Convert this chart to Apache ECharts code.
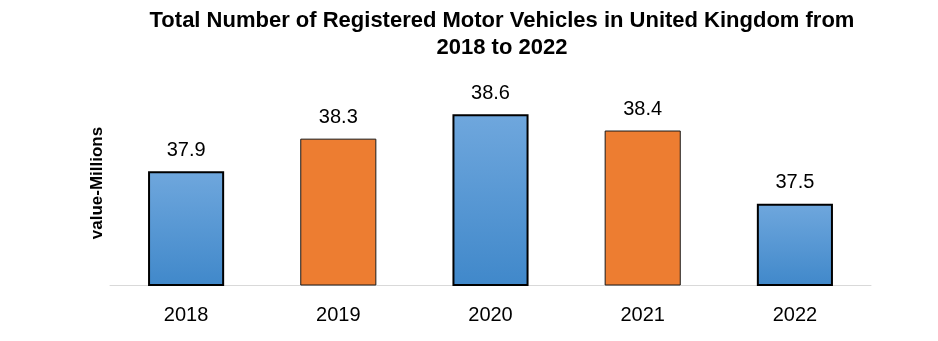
<!DOCTYPE html>
<html>
<head>
<meta charset="utf-8">
<script src="https://cdn.jsdelivr.net/npm/echarts@6/dist/echarts.min.js"></script>
<style>
  html, body { margin: 0; padding: 0; background: #fff; }
  #chart { width: 938px; height: 341px; }
</style>
</head>
<body>
<div id="chart"></div>
<script>
// Registered motor vehicles in the UK, millions
const years = ['2018', '2019', '2020', '2021', '2022'];
const vehicles = [37.9, 38.3, 38.6, 38.4, 37.5];
const barKinds = ['blue', 'orange', 'blue', 'orange', 'blue'];

const blueFill = new echarts.graphic.LinearGradient(0, 0, 0, 1, [
  { offset: 0, color: '#6fa7dd' },
  { offset: 1, color: '#4088ca' }
]);
const styles = {
  blue: { color: blueFill, borderColor: '#000000', borderWidth: 2 },
  orange: { color: '#ed7d31', borderColor: '#1a1a1a', borderWidth: 1 }
};

const chart = echarts.init(document.getElementById('chart'), null, { renderer: 'canvas' });
chart.setOption({
  animation: false,
  backgroundColor: '#ffffff',
  graphic: [{
    type: 'text',
    x: 502,
    y: 7,
    style: {
      text: 'Total Number of Registered Motor Vehicles in United Kingdom from\n2018 to 2022',
      align: 'center',
      verticalAlign: 'top',
      fontFamily: 'Liberation Sans, Arial, sans-serif',
      fontWeight: 'bold',
      fontSize: 22,
      lineHeight: 27,
      fill: '#000'
    }
  }],
  grid: { left: 110, right: 67, top: 98, bottom: 56, containLabel: false },
  xAxis: {
    type: 'category',
    data: years,
    axisLine: { lineStyle: { color: '#d9d9d9', width: 1 } },
    axisTick: { show: false },
    axisLabel: {
      margin: 20,
      fontSize: 20,
      color: '#000',
      fontFamily: 'Liberation Sans, Arial, sans-serif'
    }
  },
  yAxis: {
    type: 'value',
    min: 36.5,
    max: 38.8,
    name: 'value-Millions',
    nameLocation: 'middle',
    nameGap: 4,
    nameRotate: 90,
    nameTextStyle: {
      fontFamily: 'Liberation Sans, Arial, sans-serif',
      fontWeight: 'bold',
      fontSize: 17,
      color: '#000',
      padding: [0, 0, 0, 17]
    },
    axisLine: { show: false },
    axisTick: { show: false },
    axisLabel: { show: false },
    splitLine: { show: false }
  },
  series: [{
    type: 'bar',
    barWidth: '50%',
    data: vehicles.map((v, i) => ({ value: v, itemStyle: styles[barKinds[i]] })),
    label: {
      show: true,
      position: 'top',
      distance: 11,
      fontSize: 20,
      color: '#000',
      fontFamily: 'Liberation Sans, Arial, sans-serif'
    }
  }]
});
</script>
</body>
</html>
